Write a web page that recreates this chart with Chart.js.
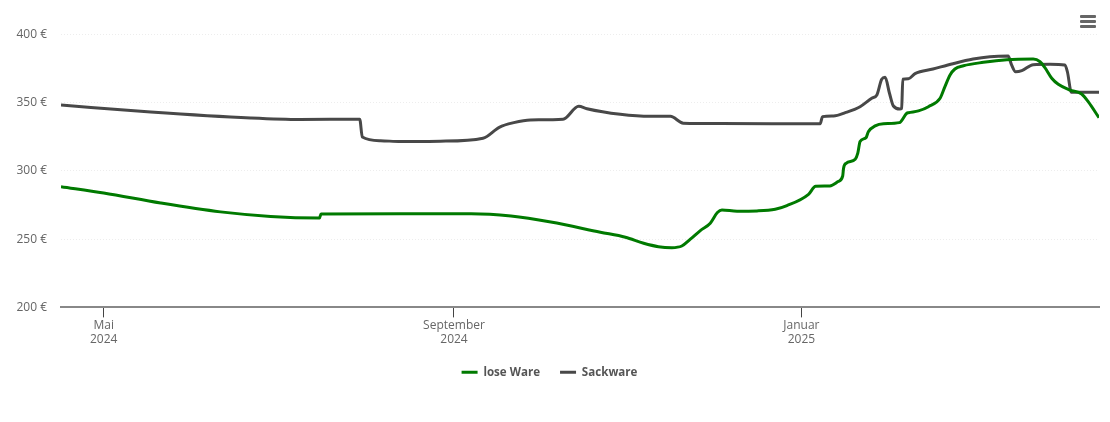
<!DOCTYPE html>
<html>
<head>
<meta charset="utf-8">
<title>Preisentwicklung</title>
<script src="https://cdn.jsdelivr.net/npm/chart.js@4"></script>
<style>
  html, body { margin:0; padding:0; background:#fff; }
  #wrap { position:relative; width:1110px; height:422px; }
  #menu { position:absolute; left:1080px; top:15px; width:16px; }
  #menu span { display:block; height:3px; background:#666; margin-bottom:2px; border-radius:1px; }
</style>
</head>
<body>
<div id="wrap">
  <canvas id="c" width="1110" height="422"></canvas>
  <div id="menu"><span></span><span></span><span></span></div>
</div>
<script>
// x values are days since 1 May 2024
const looseDays = [-15,0,20,41,58.6,75.8,76.3,104,129,143,157,174.4,183.2,189.6,194.8,199.5,203,206,209.5,213,215.5,217.1,222.4,229.4,235.8,239.9,247.5,250,255,257.9,259.5,259.8,260.7,263.9,264.8,265.6,267.7,268.5,270.9,273.8,279.4,282,282.6,286.1,289.6,293.7,295.4,297.2,298.9,301.9,308.9,317.1,326.4,328.8,330.5,332.9,335.2,339.3,343.4,345.7,349.5];
const looseValues = [288.5,283.9,276.5,270,266.7,265.6,268.5,268.7,268.7,267,262.6,255.1,251.4,247,244.5,243.8,245,250,256.3,261.7,269.5,271.4,270.5,270.7,271.9,274.6,282.9,288.8,289,292.2,296.3,302,305.6,308.6,313,321.5,324.4,328.8,333,334.6,335.4,342.3,342.7,344,347.1,353.3,361.8,370.3,374.7,377.1,379.6,381.5,382,380,375.7,367.9,363.5,359.3,356.4,350.8,339];
const sackDays = [-15,16.5,51.6,69,89.9,90.8,97.2,104.2,118.2,133.2,138.9,144,149.8,161.3,166.8,169.7,181.4,192,199,203.5,216.5,251.6,252.4,256.3,260.4,265.6,269.7,271.5,273.2,274.4,275.9,277.3,279.6,280.2,280.6,282.6,284.9,291.2,298.2,305.3,311.2,317.6,318.8,320.2,322.4,326.4,332.3,337.5,338.4,339.8,349.5];
const sackValues = [348.3,343.2,338.8,337.7,337.9,324.9,322.2,321.5,321.8,324,332,335.4,337.4,337.9,347.4,345.6,341.5,340,340,335,334.7,334.6,339.8,340.3,342.7,347.1,353.3,355.7,367.2,368.6,357.1,347.6,345.4,345.8,367.2,367.6,371.3,374.7,378.6,382,383.7,384.2,377.7,372.7,373.5,377.9,378.2,377.7,372.7,357.7,357.7];
const tickDays = [0,123,245];
const tickLabels = [["Mai","2024"],["September","2024"],["Januar","2025"]];
const seriesNames = ["lose Ware","Sackware"];
const yTicks = [200,250,300,350,400];

const toPoints = (days, vals) => days.map((d,i) => ({ x:d, y:vals[i] }));
const lineDefaults = { borderWidth:3, pointRadius:0, fill:false, cubicInterpolationMode:"monotone" };
const FONT = "'Open Sans', sans-serif";

new Chart(document.getElementById("c"), {
  type:"line",
  data:{
    datasets:[
      { ...lineDefaults, label:seriesNames[0], data:toPoints(looseDays,looseValues), borderColor:"#007a00", backgroundColor:"#007a00" },
      { ...lineDefaults, label:seriesNames[1], data:toPoints(sackDays,sackValues), borderColor:"#484848", backgroundColor:"#484848" },
    ],
  },
  options:{
    responsive:false, animation:false, devicePixelRatio:1,
    layout:{ padding:{ top:34.5, right:11, bottom:34, left:0 } },
    plugins:{
      tooltip:{ enabled:false },
      legend:{
        position:"bottom",
        labels:{ usePointStyle:true, pointStyle:"line", pointStyleWidth:16, boxHeight:12, padding:20, color:"#555",
                 font:{ family:FONT, size:11.6, weight:"bold" } },
      },
    },
    scales:{
      x:{
        type:"linear", min:-15, max:349.5,
        afterBuildTicks:ax => { ax.ticks = tickDays.map(v => ({ value:v })); },
        afterFit:ax => { ax.height = 39; },
        ticks:{ autoSkip:false, maxRotation:0, padding:1, color:"#666", font:{ family:FONT, size:12 },
                callback:v => tickLabels[tickDays.indexOf(v)] },
        grid:{ drawOnChartArea:false, drawTicks:true, tickLength:10, tickColor:"#444", tickWidth:1 },
        border:{ color:"#888", width:2 },
      },
      y:{
        min:200, max:400,
        afterBuildTicks:ax => { ax.ticks = yTicks.map(v => ({ value:v })); },
        afterFit:ax => { ax.width = 61; },
        ticks:{ padding:14, color:"#666", font:{ family:FONT, size:12 }, callback:v => v + " €" },
        grid:{ color:"#ededed", lineWidth:1, drawTicks:false },
        border:{ display:false, dash:[1,2] },
      },
    },
  },
});
</script>
</body>
</html>
